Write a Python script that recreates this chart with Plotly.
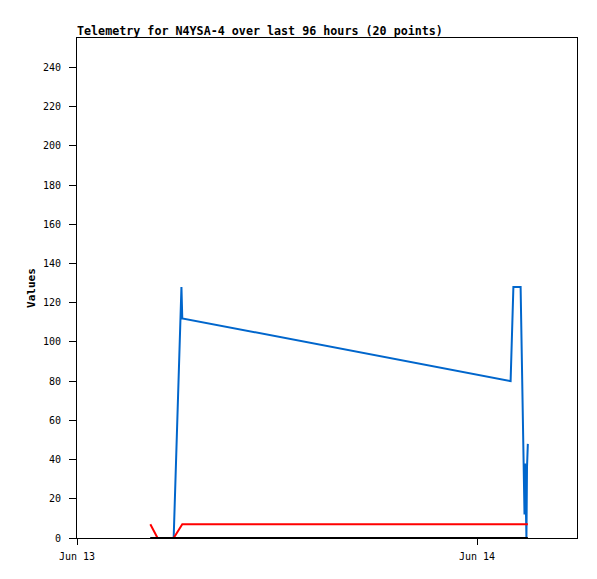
import plotly.graph_objects as go

times = [
    "2023-06-13 04:24", "2023-06-13 04:50", "2023-06-13 05:48", "2023-06-13 06:16",
    "2023-06-13 06:19", "2023-06-14 02:01", "2023-06-14 02:11", "2023-06-14 02:37",
    "2023-06-14 02:47", "2023-06-14 02:51", "2023-06-14 02:53", "2023-06-14 02:56",
    "2023-06-14 02:58", "2023-06-14 03:00", "2023-06-14 03:03",
]
blue_vals = [0, 0, 0, 128, 112, 80, 128, 128, 40, 12, 38, 8, 0, 36, 48]
red_vals = [7, 0, 0, 7, 7, 7, 7, 7, 7, 7, 7, 7, 7, 7, 7]
black_vals = [0] * len(times)

x_ticks = ["2023-06-13", "2023-06-14"]
x_tick_labels = ["Jun 13", "Jun 14"]
y_ticks = list(range(0, 241, 20))

MONO = "DejaVu Sans Mono"
W, H = 597, 579  # page body adds an 8px offset

fig = go.Figure()
fig.add_trace(go.Scatter(x=times, y=blue_vals, mode="lines",
                         line=dict(color="#0066CC", width=2), showlegend=False))
fig.add_trace(go.Scatter(x=times, y=red_vals, mode="lines",
                         line=dict(color="#FF0000", width=2), showlegend=False))
fig.add_trace(go.Scatter(x=times, y=black_vals, mode="lines",
                         line=dict(color="#000000", width=2), showlegend=False))

fig.update_layout(
    width=W, height=H,
    margin=dict(l=69, r=28, t=30, b=49),
    paper_bgcolor="white", plot_bgcolor="white",
    title=dict(text="<b>Telemetry for N4YSA-4 over last 96 hours (20 points)</b>",
               x=0, xref="paper", xanchor="left",
               y=1 - 23 / H, yref="container", yanchor="middle",
               font=dict(family=MONO, size=11.7, color="black")),
    font=dict(family=MONO, size=10, color="black"),
)
fig.update_xaxes(
    type="date", range=["2023-06-13 00:00", "2023-06-14 06:00"],
    tickvals=x_ticks, ticktext=x_tick_labels,
    ticks="outside", ticklen=6, tickcolor="black", ticklabelstandoff=3,
    showline=True, linecolor="black", linewidth=1, mirror=True,
    showgrid=False, zeroline=False,
    tickfont=dict(family=MONO, size=10),
)
fig.update_yaxes(
    range=[0, 255], tickvals=y_ticks,
    ticks="outside", ticklen=7, tickcolor="black",
    showline=True, linecolor="black", linewidth=1, mirror=True,
    showgrid=False, zeroline=False, ticklabelstandoff=6,
    title=dict(text="<b>Values</b>", font=dict(family=MONO, size=11), standoff=5),
    tickfont=dict(family=MONO, size=10),
)

fig.write_html("out.html")
